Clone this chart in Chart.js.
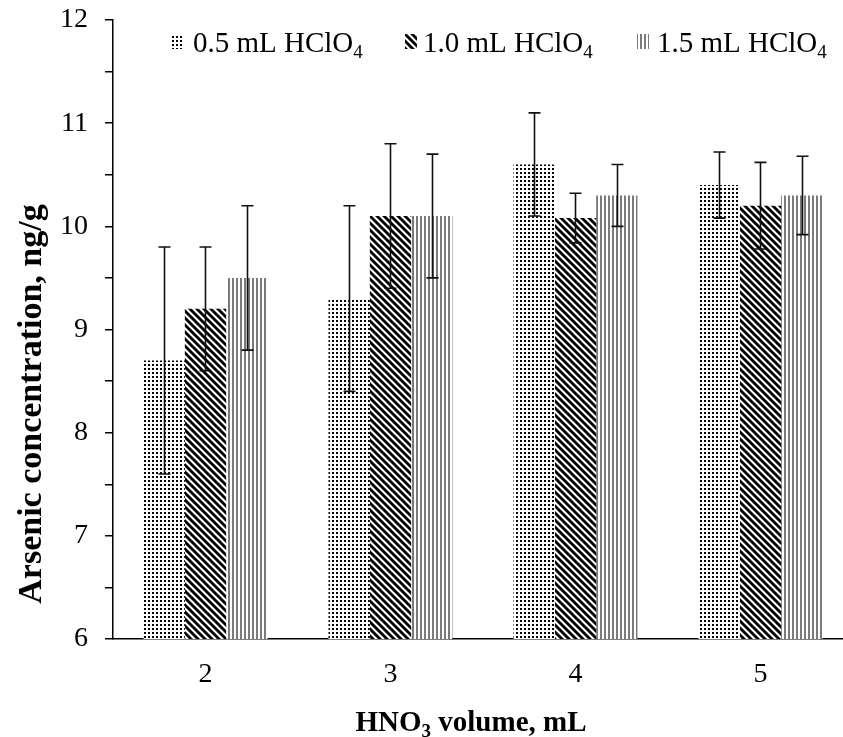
<!DOCTYPE html>
<html>
<head>
<meta charset="utf-8">
<script src="https://cdn.jsdelivr.net/npm/chart.js@4.4.1/dist/chart.umd.min.js"></script>
<style>
    html, body { margin: 0; padding: 0; background: #fff; overflow: hidden; }
</style>
</head>
<body>
<canvas id="graph" width="843" height="737"></canvas>
<script>
// data
let volumes = [2, 3, 4, 5];
let seriesNames = ["0.5 mL HClO", "1.0 mL HClO", "1.5 mL HClO"];
let seriesSub = "4";
let conc05 = [8.7, 9.3, 10.6, 10.4];
let conc10 = [9.2, 10.1, 10.08, 10.2];
let conc15 = [9.5, 10.1, 10.3, 10.3];
let err05 = [1.1, 0.9, 0.5, 0.32];
let err10 = [0.6, 0.7, 0.24, 0.42];
let err15 = [0.7, 0.6, 0.3, 0.38];
let yTicks = [6, 7, 8, 9, 10, 11, 12];

const FONT = "'Liberation Serif', 'Times New Roman', serif";

function makePattern(w, h, draw){
    let c = document.createElement("canvas");
    c.width = w;
    c.height = h;
    let cx = c.getContext("2d");
    cx.fillStyle = "#fff";
    cx.fillRect(0, 0, w, h);
    draw(cx);
    return document.getElementById("graph").getContext("2d").createPattern(c, "repeat");
}

// dotted
let dots = makePattern(4, 4, (cx) => {
    cx.fillStyle = "#000";
    cx.fillRect(0, 0, 2, 2);
});
// diagonal stripes "\"
let stripes = makePattern(7, 7, (cx) => {
    cx.strokeStyle = "#000";
    cx.lineWidth = 2.8;
    for(let k = -7; k <= 7; k += 7){
        cx.beginPath();
        cx.moveTo(k - 1, -1);
        cx.lineTo(k + 8, 8);
        cx.stroke();
    }
});
// vertical grey lines
let vlines = makePattern(4, 4, (cx) => {
    cx.fillStyle = "#7a7a7a";
    cx.fillRect(0, 0, 2, 4);
});

let fills = [dots, stripes, vlines];
let errs = [err05, err10, err15];

function points(vals){
    return volumes.map((v, i) => ({x: v, y: vals[i]}));
}

const errorBars = {
    id: "errorBars",
    afterDatasetsDraw(chart){
        let ctx = chart.ctx;
        let y = chart.scales.y;
        ctx.save();
        ctx.strokeStyle = "#111";
        ctx.lineWidth = 1.6;
        chart.data.datasets.forEach((ds, i) => {
            let meta = chart.getDatasetMeta(i);
            meta.data.forEach((bar, j) => {
                let v = ds.data[j].y;
                let e = errs[i][j];
                let x = Math.round(bar.x) + 0.5;
                let top = y.getPixelForValue(v + e);
                let bot = y.getPixelForValue(v - e);
                ctx.beginPath();
                ctx.moveTo(x, top);
                ctx.lineTo(x, bot);
                ctx.moveTo(x - 6, top);
                ctx.lineTo(x + 6, top);
                ctx.moveTo(x - 6, bot);
                ctx.lineTo(x + 6, bot);
                ctx.stroke();
            });
        });
        ctx.restore();
    }
};

// text with a subscript part, and an optional tail after it
function subText(ctx, main, sub, tail, x, y, size, bold, align){
    let w = (bold ? "bold " : "") + size + "px " + FONT;
    let ws = (bold ? "bold " : "") + Math.round(size * 0.65) + "px " + FONT;
    ctx.font = w;
    let m = ctx.measureText(main).width;
    let t = ctx.measureText(tail).width;
    ctx.font = ws;
    let s = ctx.measureText(sub).width;
    let x0 = align === "center" ? x - (m + s + t) / 2 : x;
    ctx.textAlign = "left";
    ctx.textBaseline = "alphabetic";
    ctx.font = w;
    ctx.fillText(main, x0, y);
    ctx.fillText(tail, x0 + m + s, y);
    ctx.font = ws;
    ctx.fillText(sub, x0 + m, y + size * 0.22);
}

const decorations = {
    id: "decorations",
    afterDraw(chart){
        let ctx = chart.ctx;
        ctx.save();
        ctx.fillStyle = "#000";
        // legend
        let patchX = [172, 405, 637];
        let textX = [193, 423, 657];
        seriesNames.forEach((name, i) => {
            ctx.fillStyle = fills[i];
            ctx.fillRect(patchX[i], 34, 12, 15);
            ctx.fillStyle = "#000";
            subText(ctx, name, seriesSub, "", textX[i], 52, 29, false, "left");
        });
        // x title
        subText(ctx, "HNO", "3", " volume, mL", 471, 731, 29, true, "center");
        // y title
        ctx.translate(41, 404);
        ctx.rotate(-Math.PI / 2);
        ctx.textAlign = "center";
        ctx.textBaseline = "alphabetic";
        ctx.font = "bold 34px " + FONT;
        ctx.fillText("Arsenic concentration, ng/g", 0, 0);
        ctx.restore();
    }
};

const data = {
    datasets: [
        {label: seriesNames[0] + seriesSub, data: points(conc05), backgroundColor: dots},
        {label: seriesNames[1] + seriesSub, data: points(conc10), backgroundColor: stripes},
        {label: seriesNames[2] + seriesSub, data: points(conc15), backgroundColor: vlines}
    ]
};

const config = {
    type: "bar",
    data: data,
    options: {
        responsive: false,
        animation: false,
        layout: {padding: {top: 20, left: 0, right: 0, bottom: 0}},
        datasets: {bar: {categoryPercentage: 0.67, barPercentage: 1, borderWidth: 0}},
        plugins: {legend: {display: false}, tooltip: {enabled: false}},
        scales: {
            x: {
                type: "linear",
                offset: false,
                min: 1.5,
                max: 5.446,
                grid: {display: false, drawTicks: false},
                border: {display: true, color: "#000", width: 1.5},
                ticks: {color: "#000", padding: 19, font: {family: FONT, size: 28}},
                afterBuildTicks: (scale) => { scale.ticks = volumes.map((v) => ({value: v})); },
                afterFit: (scale) => { scale.height = 98; scale.paddingLeft = 0; scale.paddingRight = 0; }
            },
            y: {
                min: yTicks[0],
                max: yTicks[yTicks.length - 1],
                grid: {drawOnChartArea: false, drawTicks: true, tickLength: 8, color: "#000", lineWidth: 1.5},
                border: {display: true, color: "#000", width: 1.5},
                ticks: {
                    stepSize: 0.5,
                    color: "#000",
                    padding: 17,
                    font: {family: FONT, size: 28},
                    callback: (v) => yTicks.includes(v) ? v : ""
                },
                afterFit: (scale) => { scale.width = 113; scale.paddingTop = 0; scale.paddingBottom = 0; }
            }
        }
    },
    plugins: [errorBars, decorations]
};

let myChart = new Chart(document.getElementById("graph"), config);
</script>
</body>
</html>
